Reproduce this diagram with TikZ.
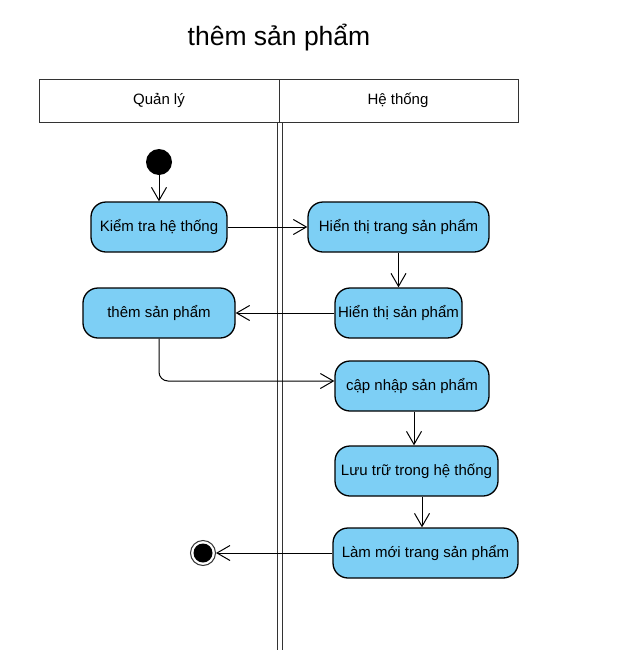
\documentclass[tikz,border=0pt]{standalone}
\usepackage{fontspec}
\setmainfont{Liberation Sans}
\usetikzlibrary{arrows.meta}
\definecolor{actfill}{HTML}{7DCFF5}
\definecolor{lanecol}{HTML}{333333}
\begin{document}
\begin{tikzpicture}[x=1pt,y=-1pt,
  act/.style={draw=black, line width=1.3pt, fill=actfill, rounded corners=15pt,
    font=\fontsize{15}{17}\selectfont, inner sep=0pt, minimum height=50pt},
  flow/.style={draw=black, line width=1pt, -{Straight Barb[length=13pt,width=15pt,line width=1pt]}},
  lane/.style={draw=lanecol, line width=1pt},
  hdr/.style={font=\fontsize{15}{17}\selectfont}]
\useasboundingbox (0,0) rectangle (626,659);
% title
\node (title) at (279,38) {\fontsize{26.5}{30}\selectfont thêm sản phẩm};
% swimlanes
\draw[lane] (39,79) rectangle (518,122);
\draw[lane] (279,79) -- (279,122);
\draw[lane] (277,122) -- (277,650);
\draw[lane] (282,122) -- (282,650);
\node[hdr] (lane1) at (159,100) {Quản lý};
\node[hdr] (lane2) at (398,100) {Hệ thống};
% nodes
\node[circle, fill=black, minimum size=26pt, inner sep=0pt] (start) at (159,162) {};
\node[act, minimum width=136pt] (kiemtra) at (159,227) {Kiểm tra hệ thống};
\node[act, minimum width=181pt] (hienthitrang) at (398.5,227) {Hiển thị trang sản phẩm};
\node[act, minimum width=127pt] (hienthisp) at (398.5,313) {Hiển thị sản phẩm};
\node[act, minimum width=152pt] (them) at (159,313) {thêm sản phẩm};
\node[act, minimum width=154pt] (capnhap) at (412,386) {cập nhập sản phẩm};
\node[act, minimum width=163pt] (luutru) at (416.5,471) {Lưu trữ trong hệ thống};
\node[act, minimum width=185pt] (lammoi) at (425.5,553) {Làm mới trang sản phẩm};
\node[circle, draw=black!80, line width=1pt, fill=white, minimum size=25pt, inner sep=0pt] (end) at (203,553) {};
\node[circle, fill=black, minimum size=19pt, inner sep=0pt] (endin) at (end.center) {};
% connectors
\draw[flow] (start) -- (kiemtra);
\draw[flow] (kiemtra) -- (hienthitrang);
\draw[flow] (hienthitrang) -- (hienthisp);
\draw[flow] (hienthisp) -- (them);
\draw[flow, rounded corners=9pt] (them.south) |- ([yshift=5pt]capnhap.west);
\draw[flow] ([xshift=2pt]capnhap.south) -- ([xshift=2pt]capnhap.south |- luutru.north);
\draw[flow] ([xshift=5.5pt]luutru.south) -- ([xshift=5.5pt]luutru.south |- lammoi.north);
\draw[flow] (lammoi) -- (end);
\end{tikzpicture}
\end{document}
